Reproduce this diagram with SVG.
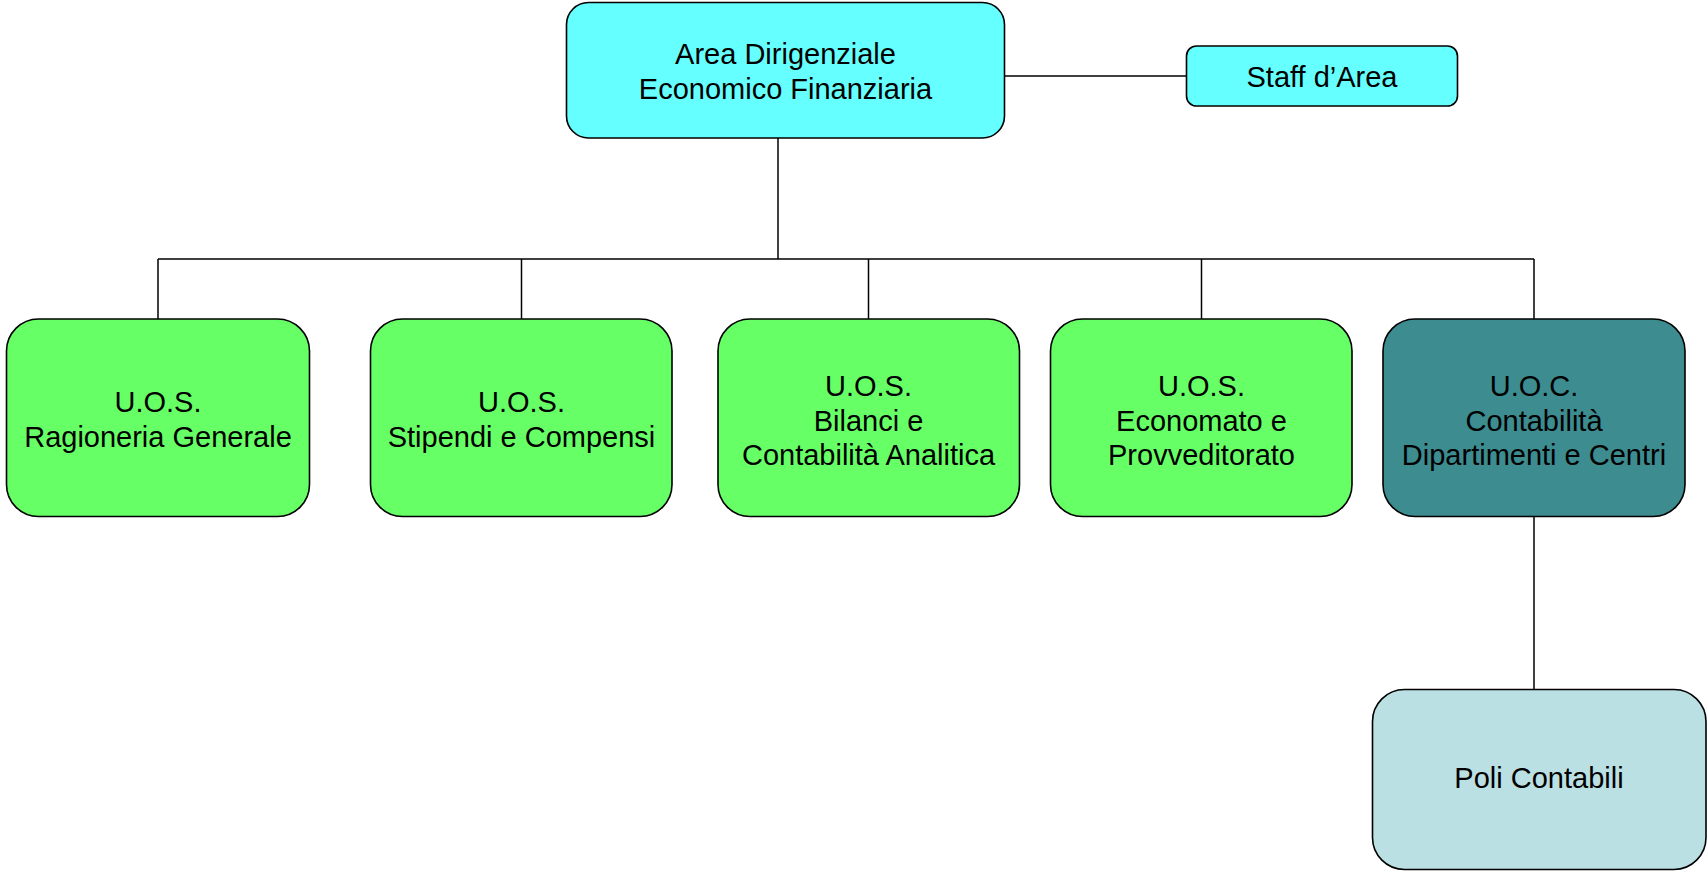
<svg xmlns="http://www.w3.org/2000/svg" width="1708" height="871" viewBox="0 0 1708 871">
<style>
.box{stroke:#000;stroke-width:1.6}
.t{font-family:"Liberation Sans",Arial,sans-serif;font-size:29px;fill:#000;text-anchor:middle}
.c{stroke:#000;stroke-width:1.5;fill:none}
</style>
<rect width="1708" height="871" fill="#fff"/>
<g id="connectors">
<line class="c" x1="1005" y1="76" x2="1186" y2="76"/>
<line class="c" x1="778" y1="138" x2="778" y2="259"/>
<line class="c" x1="158" y1="259" x2="1534" y2="259"/>
<line class="c" x1="158" y1="259" x2="158" y2="319"/>
<line class="c" x1="521.5" y1="259" x2="521.5" y2="319"/>
<line class="c" x1="868.5" y1="259" x2="868.5" y2="319"/>
<line class="c" x1="1201.5" y1="259" x2="1201.5" y2="319"/>
<line class="c" x1="1534" y1="259" x2="1534" y2="319"/>
<line class="c" x1="1534" y1="516" x2="1534" y2="689.5"/>
</g>
<g id="area">
<rect class="box" x="566.5" y="2.5" width="438" height="135.5" rx="22" fill="#66FFFF"/>
<text class="t" x="785.5" y="64">Area Dirigenziale</text>
<text class="t" x="785.5" y="99">Economico Finanziaria</text>
</g>
<g id="staff">
<rect class="box" x="1186.5" y="46" width="271" height="60" rx="10" fill="#66FFFF"/>
<text class="t" x="1322" y="87">Staff d’Area</text>
</g>
<g id="ragioneria">
<rect class="box" x="6.5" y="319" width="303" height="197.5" rx="32" fill="#66FF66"/>
<text class="t" x="158" y="412">U.O.S.</text>
<text class="t" x="158" y="447">Ragioneria Generale</text>
</g>
<g id="stipendi">
<rect class="box" x="370.5" y="319" width="301.5" height="197.5" rx="32" fill="#66FF66"/>
<text class="t" x="521.5" y="412">U.O.S.</text>
<text class="t" x="521.5" y="447">Stipendi e Compensi</text>
</g>
<g id="bilanci">
<rect class="box" x="718" y="319" width="301.5" height="197.5" rx="32" fill="#66FF66"/>
<text class="t" x="868.5" y="395.5">U.O.S.</text>
<text class="t" x="868.5" y="430.5">Bilanci e</text>
<text class="t" x="868.5" y="465">Contabilità Analitica</text>
</g>
<g id="economato">
<rect class="box" x="1050.5" y="319" width="301.5" height="197.5" rx="32" fill="#66FF66"/>
<text class="t" x="1201.5" y="395.5">U.O.S.</text>
<text class="t" x="1201.5" y="430.5">Economato e</text>
<text class="t" x="1201.5" y="465">Provveditorato</text>
</g>
<g id="contabilita">
<rect class="box" x="1383" y="319" width="302" height="197.5" rx="32" fill="#3C8C90"/>
<text class="t" x="1534" y="395.5">U.O.C.</text>
<text class="t" x="1534" y="430.5">Contabilità</text>
<text class="t" x="1534" y="465">Dipartimenti e Centri</text>
</g>
<g id="poli">
<rect class="box" x="1372.5" y="689.5" width="333.5" height="180" rx="32" fill="#BBE0E3"/>
<text class="t" x="1539" y="788">Poli Contabili</text>
</g>
</svg>
